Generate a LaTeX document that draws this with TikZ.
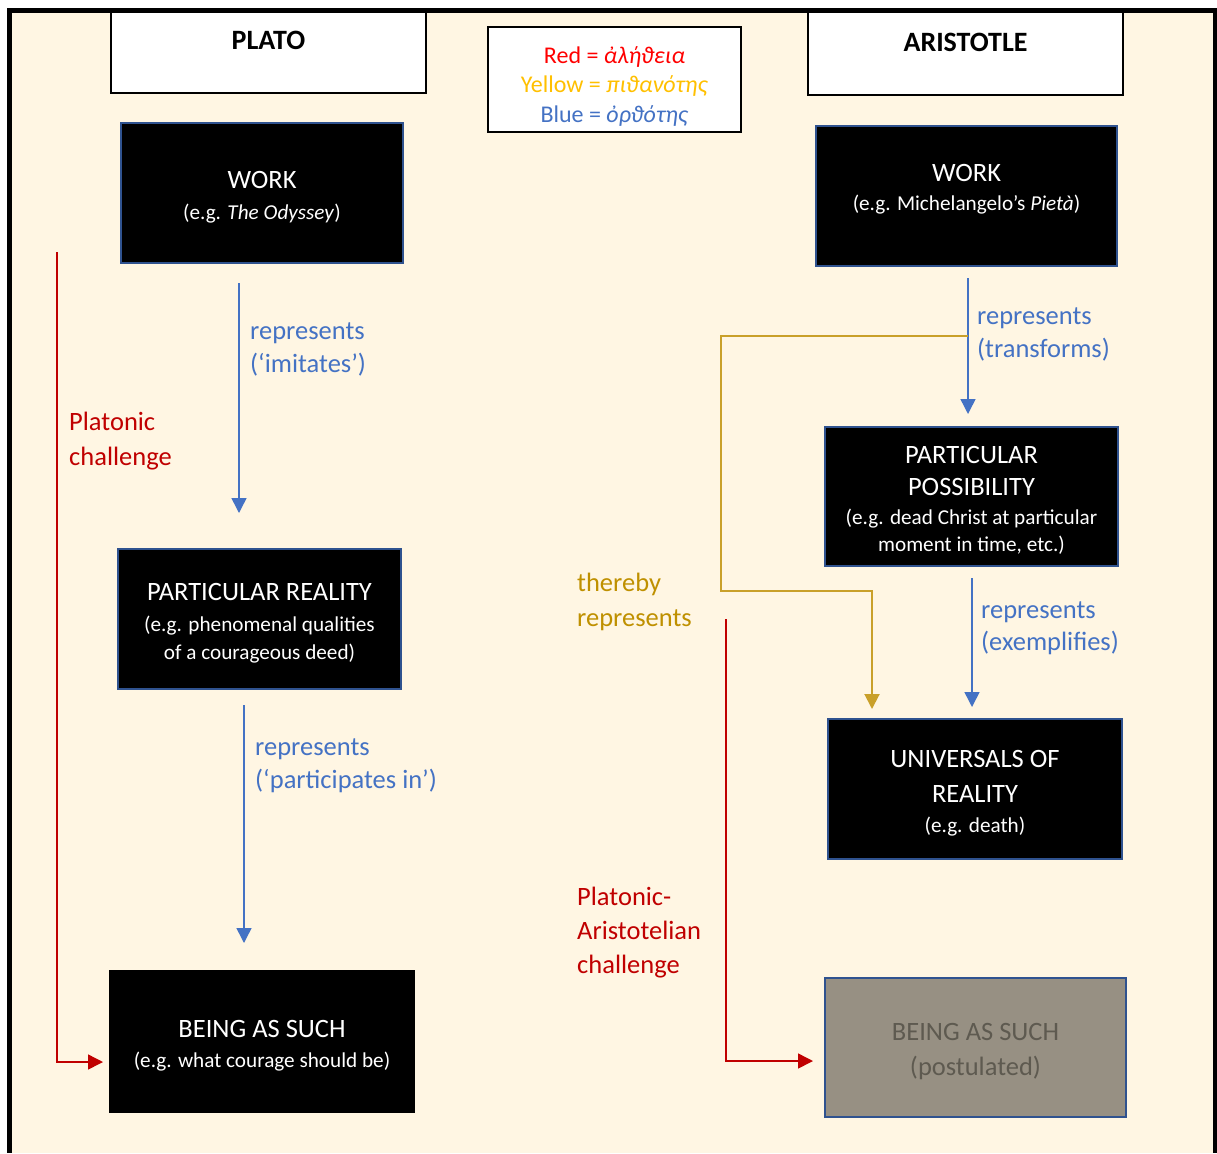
\documentclass[tikz,border=0pt]{standalone}
\usepackage{fontspec}
\setmainfont{Carlito}
\usetikzlibrary{arrows.meta}
\definecolor{bgbeige}{HTML}{FFF6E3}
\definecolor{boxblue}{HTML}{2F528F}
\definecolor{arrblue}{HTML}{4472C4}
\definecolor{chred}{HTML}{C00000}
\definecolor{yel}{HTML}{C9A02A}
\definecolor{yeltext}{HTML}{BF9000}
\definecolor{legred}{HTML}{FF0000}
\definecolor{legyellow}{HTML}{FFC000}
\definecolor{postfill}{HTML}{979083}
\definecolor{posttext}{HTML}{5E5A50}
\newcommand\myTitle{\fontsize{26.5}{27}\selectfont}
\newcommand\mySub{\fontsize{21.2}{27}\selectfont}
\newcommand\myStrut{\rule{0pt}{25pt}}
\begin{document}
\begin{tikzpicture}[x=1pt,y=-1pt,
  darkbox/.style={draw=boxblue, line width=2pt, fill=black, text=white, align=center, inner sep=0pt, font=\mySub},
  headbox/.style={draw=black, line width=1.5pt, fill=white, align=center, inner sep=0pt, font=\fontsize{28}{30}\selectfont\bfseries},
  lbl/.style={anchor=north west, align=left, inner sep=0pt, font=\fontsize{26.5}{33}\selectfont, text height=19pt},
  bluearrow/.style={draw=arrblue, line width=1.5pt, -{Triangle[width=15pt,length=15pt]}},
  redarrow/.style={draw=chred, line width=1.5pt, -{Triangle[width=15pt,length=15pt]}},
  yelarrow/.style={draw=yel, line width=2pt, -{Triangle[width=15pt,length=15pt]}}
]
\useasboundingbox (0,0) rectangle (1217,1153);
\fill[white] (0,0) rectangle (1217,1153);
\fill[bgbeige] (7,8) rectangle (1217,1153);

% headers
\node[headbox, minimum width=315pt, minimum height=82pt, text depth=24pt] (plato) at (268.5,52) {PLATO};
\node[headbox, minimum width=315pt, minimum height=84pt, text depth=22pt] (aristotle) at (965.5,53) {ARISTOTLE};

% legend
\node[draw=black, line width=2pt, fill=white, align=center, inner sep=0pt,
      minimum width=253pt, minimum height=105pt, font=\fontsize{24}{29.5}\selectfont] (legend) at (614.5,79.5)
  {\rule{0pt}{30pt}{\color{legred}Red = \textit{ἀλήϑεια}}\\{\color{legyellow}Yellow = \textit{πιϑανότης}}\\{\color{arrblue}Blue = \textit{ὀρϑότης}}};

% Plato column
\node[darkbox, minimum width=282pt, minimum height=140pt] (pwork) at (262,193)
  {\myStrut{\myTitle WORK}\\[4pt](e.g. \textit{The Odyssey})};
\node[darkbox, minimum width=283pt, minimum height=140pt] (preal) at (259.5,619)
  {\myStrut{\myTitle PARTICULAR REALITY}\\[4pt](e.g. phenomenal qualities\\[1pt]of a courageous deed)};
\node[darkbox, draw=black, minimum width=304pt, minimum height=141pt] (pbeing) at (262,1041.5)
  {\myStrut{\myTitle BEING AS SUCH}\\[3pt](e.g. what courage should be)};

% Aristotle column
\node[darkbox, minimum width=301pt, minimum height=140pt, text depth=25pt] (awork) at (966.5,196)
  {\myStrut{\myTitle WORK}\\[2pt](e.g. Michelangelo’s \textit{Pietà})};
\node[darkbox, minimum width=293pt, minimum height=139pt] (aposs) at (971.5,496.5)
  {\myStrut{\myTitle PARTICULAR}\\[5pt]{\myTitle POSSIBILITY}\\[2pt](e.g. dead Christ at particular\\moment in time, etc.)};
\node[darkbox, minimum width=294pt, minimum height=140pt] (auniv) at (975,789)
  {\myStrut{\myTitle UNIVERSALS OF}\\[8pt]{\myTitle REALITY}\\[3pt](e.g. death)};
\node[darkbox, fill=postfill, text=posttext, minimum width=301pt, minimum height=139pt] (abeing) at (975.5,1047.5)
  {\myStrut{\myTitle BEING AS SUCH}\\[8pt]{\myTitle (postulated)}};

% labels (position = top of last line)
\node[lbl, text=arrblue] (l1) at (250,353) {represents\\(‘imitates’)};
\node[lbl, text=arrblue] (l2) at (255,769) {represents\\(‘participates in’)};
\node[lbl, text=arrblue] (l3) at (977,338) {represents\\(transforms)};
\node[lbl, text=arrblue] (l4) at (981,631) {represents\\[-1pt](exemplifies)};
\node[lbl, text=yeltext] (l5) at (577,607) {thereby\\[2pt]represents};
\node[lbl, text=chred] (l6) at (69,446) {Platonic\\[2pt]challenge};
\node[lbl, text=chred] (l7) at (577,954) {Platonic-\\[1pt]Aristotelian\\[1pt]challenge};

% connector end points
\coordinate (b1s) at (239,283); \coordinate (b1e) at (239,513);
\coordinate (b2s) at (244,705); \coordinate (b2e) at (244,943);
\coordinate (b3s) at (968,278); \coordinate (b3e) at (968,414);
\coordinate (b4s) at (972,578); \coordinate (b4e) at (972,707);
\coordinate (r1s) at (57,252);  \coordinate (r1e) at (103,1062);
\coordinate (r2s) at (726,619); \coordinate (r2e) at (813,1061);
\coordinate (ys) at (968,336);  \coordinate (yc) at (721,591); \coordinate (ye) at (872,709);

\draw[bluearrow] (b1s) -- (b1e);
\draw[bluearrow] (b2s) -- (b2e);
\draw[bluearrow] (b3s) -- (b3e);
\draw[bluearrow] (b4s) -- (b4e);
\draw[redarrow] (r1s) |- (r1e);
\draw[redarrow] (r2s) |- (r2e);
\draw[yelarrow] (ys) -| (yc) -| (ye);

% frame
\fill[black] (7,8) rectangle (12,1153);
\fill[black] (7,8) rectangle (1217,13);
\fill[black] (1213,8) rectangle (1217,1153);
\end{tikzpicture}
\end{document}
